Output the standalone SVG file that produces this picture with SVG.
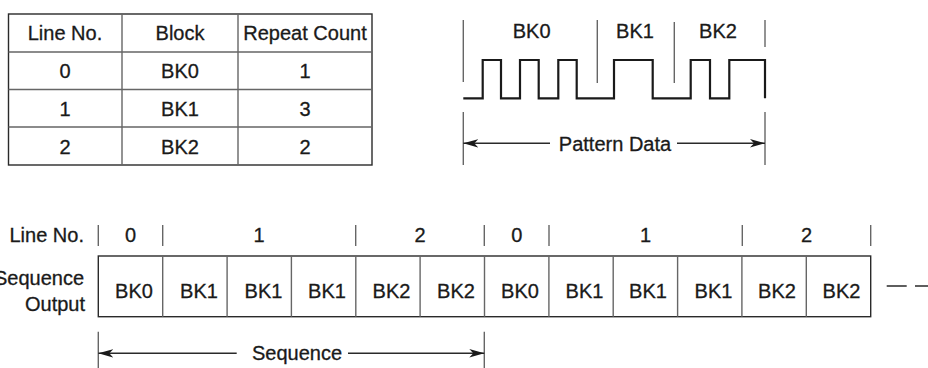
<svg xmlns="http://www.w3.org/2000/svg" width="928" height="368" viewBox="0 0 928 368">
<defs>
<style>
text{font-family:"Liberation Sans",Arial,sans-serif;font-size:20px;fill:#1a1a1a;stroke:#1a1a1a;stroke-width:0.3}
.c{text-anchor:middle}
.r{text-anchor:end}
.ln{stroke:#2a2a2a;stroke-width:1.4;fill:none}
.lg{stroke:#666;stroke-width:1.4;fill:none}
.wf{stroke:#1a1a1a;stroke-width:2.2;fill:none;stroke-linejoin:miter}
</style>
<marker id="ah" viewBox="0 0 16 10" refX="15" refY="5" markerWidth="16" markerHeight="10" markerUnits="userSpaceOnUse" orient="auto-start-reverse">
<path d="M15,5 L0,0.8 L4,5 L0,9.2 Z" fill="#1a1a1a"/>
</marker>
</defs>
<rect width="928" height="368" fill="#fff"/>

<g id="table">
<rect x="8.5" y="14" width="363.5" height="151" class="ln" stroke-width="1.6"/>
<path class="lg" d="M122,14V165M238,14V165M8.5,52H372M8.5,89.5H372M8.5,127H372"/>
<text class="c" x="65" y="40">Line No.</text>
<text class="c" x="180" y="40">Block</text>
<text class="c" x="305" y="40">Repeat Count</text>
<text class="c" x="65" y="78">0</text>
<text class="c" x="180" y="78">BK0</text>
<text class="c" x="305" y="78">1</text>
<text class="c" x="65" y="116">1</text>
<text class="c" x="180" y="116">BK1</text>
<text class="c" x="305" y="116">3</text>
<text class="c" x="65" y="154">2</text>
<text class="c" x="180" y="154">BK2</text>
<text class="c" x="305" y="154">2</text>
</g>

<g id="pattern">
<path class="lg" d="M463.3,20V82M765,20V47M597.3,20V83M674.3,22V83M463.3,112V165M765,112V165"/>
<path class="wf" d="M463.3,98.3H482.7V60H501V98.3H520V60H538.7V98.3H558.3V60H576.7V98.3H614V60H652.7V98.3H690.7V60H710V98.3H729.3V60H765V98.3"/>
<text class="c" x="531.7" y="38">BK0</text>
<text class="c" x="635" y="38">BK1</text>
<text class="c" x="718" y="38">BK2</text>
<text class="c" x="615" y="150.5">Pattern Data</text>
</g>

<g id="labels">
<text class="r" x="84" y="242">Line No.</text>
<text class="r" x="84" y="284.5">Sequence</text>
<text class="r" x="85" y="310.5">Output</text>
<text class="c" x="130.5" y="242">0</text>
<text class="c" x="259" y="242">1</text>
<text class="c" x="420" y="242">2</text>
<text class="c" x="516.7" y="242">0</text>
<text class="c" x="645.6" y="242">1</text>
<text class="c" x="806.5" y="242">2</text>
<path class="lg" d="M98.3,225V246M162.7,225V246M355.7,225V246M484.3,225V246M549,225V246M742.3,225V246M870.7,225V246"/>
</g>

<g id="sequence">
<rect x="98.3" y="256" width="772.4" height="60.7" class="ln"/>
<g id="cell0"><text class="c" x="134" y="297.5">BK0</text></g>
<g id="cell1"><path class="lg" d="M162.7,256V316.7"/><text class="c" x="199" y="297.5">BK1</text></g>
<g id="cell2"><path class="lg" d="M227.1,256V316.7"/><text class="c" x="263.5" y="297.5">BK1</text></g>
<g id="cell3"><path class="lg" d="M291.4,256V316.7"/><text class="c" x="327" y="297.5">BK1</text></g>
<g id="cell4"><path class="lg" d="M355.8,256V316.7"/><text class="c" x="391.5" y="297.5">BK2</text></g>
<g id="cell5"><path class="lg" d="M420.1,256V316.7"/><text class="c" x="456" y="297.5">BK2</text></g>
<g id="cell6"><path class="lg" d="M484.5,256V316.7"/><text class="c" x="520" y="297.5">BK0</text></g>
<g id="cell7"><path class="lg" d="M548.9,256V316.7"/><text class="c" x="584.5" y="297.5">BK1</text></g>
<g id="cell8"><path class="lg" d="M613.2,256V316.7"/><text class="c" x="648" y="297.5">BK1</text></g>
<g id="cell9"><path class="lg" d="M677.6,256V316.7"/><text class="c" x="713.5" y="297.5">BK1</text></g>
<g id="cell10"><path class="lg" d="M741.9,256V316.7"/><text class="c" x="777" y="297.5">BK2</text></g>
<g id="cell11"><path class="lg" d="M806.3,256V316.7"/><text class="c" x="841.5" y="297.5">BK2</text></g>
<text class="c" x="297" y="360">Sequence</text>
</g>

<g id="connectors">
<path class="ln" d="M550,143.3H463.3" marker-end="url(#ah)"/>
<path class="ln" d="M677,143.3H765" marker-end="url(#ah)"/>
<path class="lg" d="M98.3,331.7V368M484.3,331.7V368"/>
<path class="ln" d="M236.7,353.3H98.3" marker-end="url(#ah)"/>
<path class="ln" d="M348,353.3H484.3" marker-end="url(#ah)"/>
<path class="ln" d="M886.7,286H906.7M915,286H928"/>
</g>
</svg>
